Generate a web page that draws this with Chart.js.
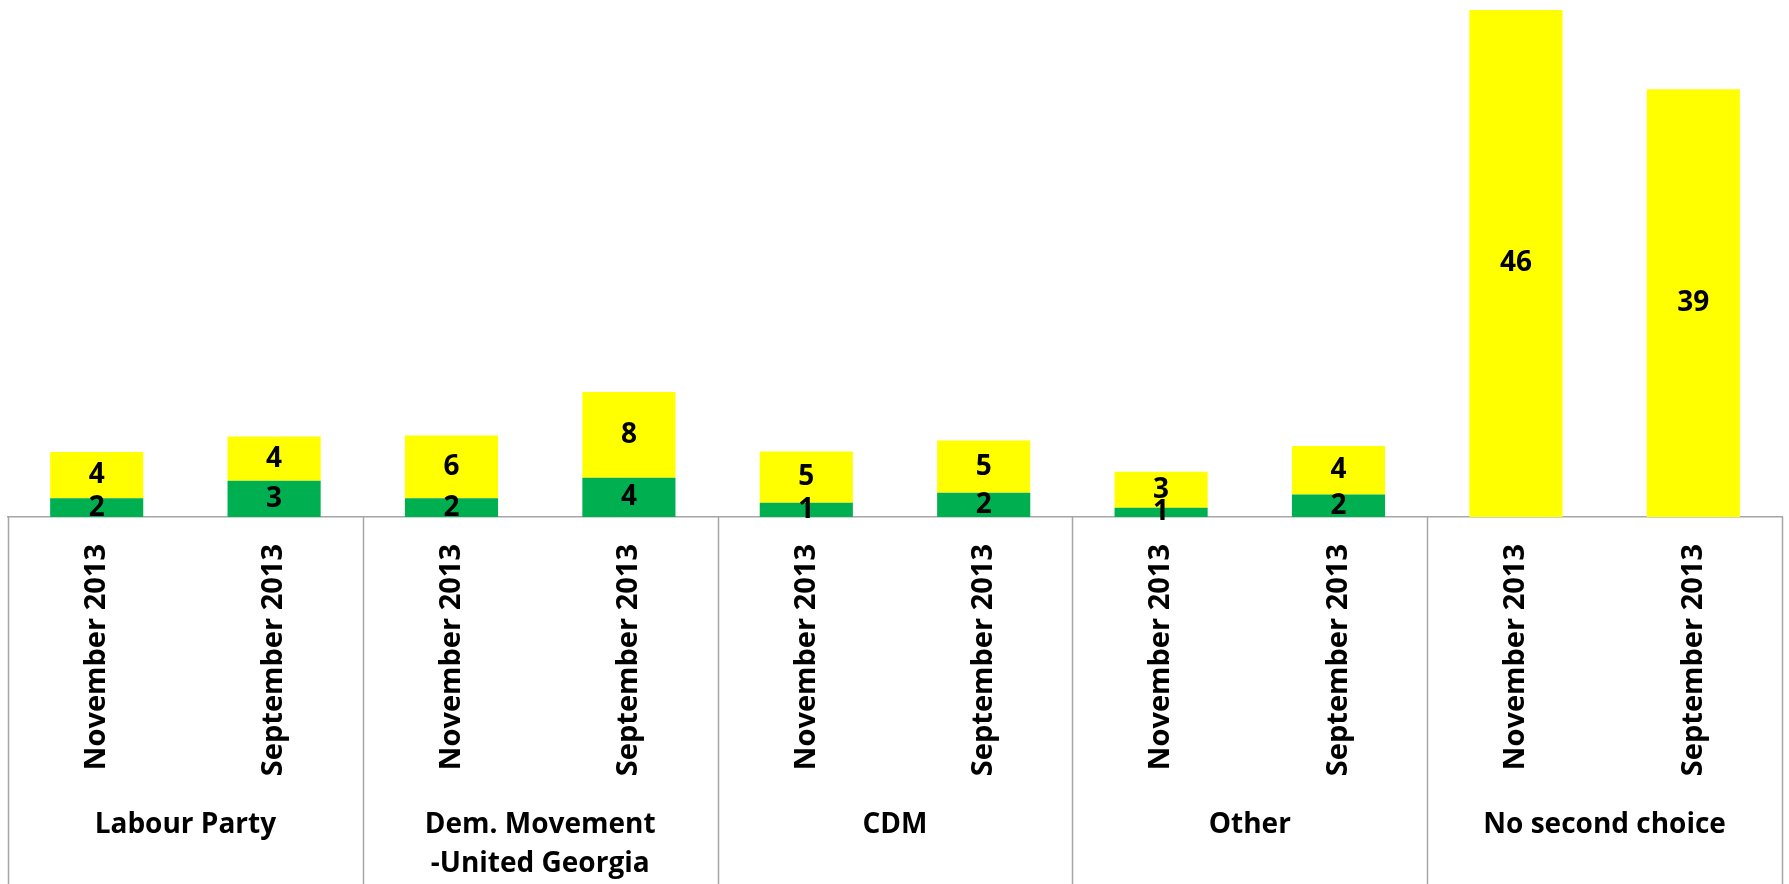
<!DOCTYPE html>
<html>
<head>
<meta charset="utf-8">
<script src="https://cdn.jsdelivr.net/npm/chart.js@4.4.1/dist/chart.umd.min.js"></script>
<style>
  html, body { margin: 0; padding: 0; background: #fff; }
  #wrap { width: 1789px; height: 884px; }
</style>
</head>
<body>
<div id="wrap"><canvas id="myChart1"></canvas></div>
<script>
const periods = ['November 2013', 'September 2013', 'November 2013', 'September 2013',
  'November 2013', 'September 2013', 'November 2013', 'September 2013',
  'November 2013', 'September 2013'];
const groups = ['Labour Party', ['Dem. Movement', '-United Georgia'], 'CDM', 'Other', 'No second choice'];
const greenValues = [1.7, 3.3, 1.7, 3.55, 1.3, 2.2, 0.85, 2.05, null, null];
const yellowValues = [4.2, 4.0, 5.7, 7.8, 4.65, 4.75, 3.25, 4.4, 46, 38.8];

const ctx = document.getElementById('myChart1');
const lineColor = '#A6A6A6';
const labelFont = { family: "'Open Sans', sans-serif", size: 28, weight: 'bold' };

// value labels in the middle of each segment
const segmentLabels = {
  id: 'segmentLabels',
  afterDatasetsDraw(chart) {
    const c = chart.ctx;
    c.save();
    c.font = 'bold 28px "Open Sans", sans-serif';
    c.fillStyle = '#000';
    c.textAlign = 'center';
    c.textBaseline = 'middle';
    chart.data.datasets.forEach((ds, i) => {
      chart.getDatasetMeta(i).data.forEach((bar, j) => {
        const v = ds.data[j];
        if (v == null || v === 0) return;
        c.fillText(Math.round(v), bar.x, (bar.y + bar.base) / 2);
      });
    });
    c.restore();
  }
};

// vertical separators between the groups, below the axis line
const groupLines = {
  id: 'groupLines',
  afterDraw(chart) {
    const x = chart.scales.x;
    const c = chart.ctx;
    const edges = [x.left];
    for (let i = 2; i < periods.length; i += 2) {
      edges.push((x.getPixelForTick(i - 1) + x.getPixelForTick(i)) / 2);
    }
    edges.push(x.right);
    c.save();
    c.strokeStyle = lineColor;
    c.lineWidth = 1.5;
    edges.forEach(px => {
      c.beginPath();
      c.moveTo(Math.round(px) + 0.5, chart.chartArea.bottom);
      c.lineTo(Math.round(px) + 0.5, chart.height);
      c.stroke();
    });
    c.restore();
  }
};

new Chart(ctx, {
  type: 'bar',
  data: {
    labels: periods,
    datasets: [{
      label: 'green',
      data: greenValues,
      backgroundColor: '#00B050',
      barPercentage: 0.525,
      categoryPercentage: 1
    }, {
      label: 'yellow',
      data: yellowValues,
      backgroundColor: '#FFFF00',
      barPercentage: 0.525,
      categoryPercentage: 1
    }]
  },
  options: {
    responsive: true,
    maintainAspectRatio: false,
    animation: false,
    layout: { padding: { top: 10, left: 8, right: 7, bottom: 0 } },
    plugins: { legend: { display: false }, tooltip: { enabled: false } },
    scales: {
      y: { stacked: true, display: false, min: 0, max: 46 },
      x: {
        stacked: true,
        grid: { display: false, drawTicks: false },
        border: { display: true, color: lineColor, width: 1.5 },
        ticks: { color: '#000', font: Object.assign({}, labelFont, { size: 29 }), minRotation: 90, maxRotation: 90, padding: 27, autoSkip: false },
        afterFit(scale) { scale.height = 278; }
      },
      x2: {
        type: 'category',
        position: 'bottom',
        labels: groups,
        grid: { display: false, drawTicks: false },
        border: { display: false },
        ticks: { color: '#000', font: Object.assign({ lineHeight: 1.4 }, labelFont), padding: 10, autoSkip: false, maxRotation: 0 },
        afterFit(scale) { scale.height = 89; }
      }
    }
  },
  plugins: [segmentLabels, groupLines]
});
</script>
</body>
</html>
